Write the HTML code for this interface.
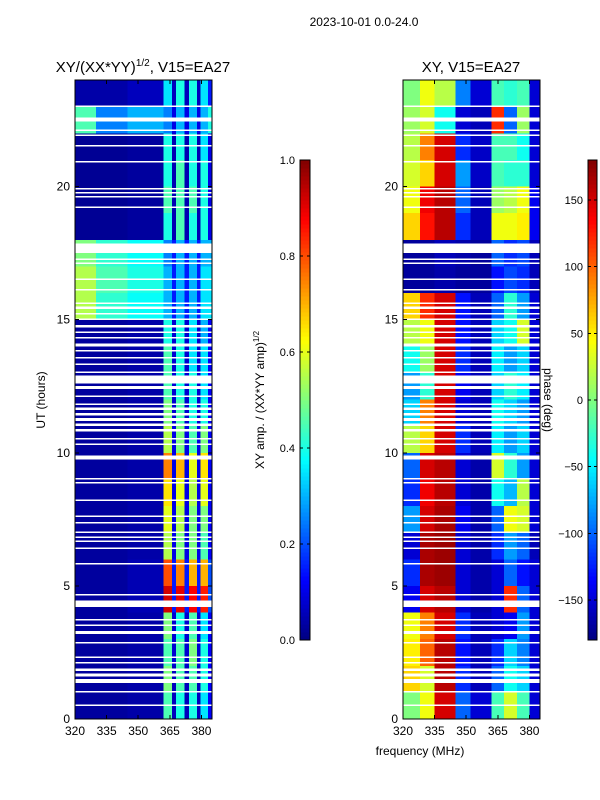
<!DOCTYPE html>
<html><head><meta charset="utf-8"><style>
body{margin:0;background:#fff;}
svg{display:block;font-family:"Liberation Sans",sans-serif;}
</style></head><body>
<svg id="fig" width="600" height="800" viewBox="0 0 600 800" shape-rendering="crispEdges">
<text x="364" y="26" font-size="12" text-anchor="middle">2023-10-01 0.0-24.0</text>
<text x="143" y="72" font-size="15" text-anchor="middle">XY/(XX*YY)<tspan font-size="10" dy="-6">1/2</tspan><tspan dy="6">, V15=EA27</tspan></text>
<text x="471" y="72" font-size="15" text-anchor="middle">XY, V15=EA27</text>
<text transform="translate(45,400) rotate(-90)" font-size="12" text-anchor="middle">UT (hours)</text>
<text x="420" y="755" font-size="12" text-anchor="middle">frequency (MHz)</text>
<text transform="translate(264,400) rotate(-90)" font-size="12" text-anchor="middle">XY amp. / (XX*YY amp)<tspan font-size="8" dy="-5">1/2</tspan></text>
<text transform="translate(544,400) rotate(90)" font-size="12" text-anchor="middle">phase (deg)</text>
<g id="layer"></g>
</svg>
<script>
const ampFreqEdges=[320,330,345,362,366,368,372,374,378,379.5,383,385];
const ampRows=[
[0.03,0.03,0.04,0.45,0.06,0.4,0.06,0.4,0.06,0.35,0.12],
[0.03,0.03,0.04,0.5,0.06,0.45,0.06,0.45,0.06,0.4,0.12],
[0.03,0.03,0.04,0.45,0.08,0.45,0.08,0.5,0.08,0.4,0.12],
[0.03,0.03,0.04,0.5,0.08,0.4,0.08,0.45,0.08,0.35,0.12],
[0.03,0.03,0.05,0.92,0.15,0.9,0.15,0.88,0.15,0.85,0.2],
[0.03,0.03,0.05,0.8,0.15,0.75,0.15,0.7,0.15,0.7,0.2],
[0.03,0.03,0.04,0.55,0.1,0.5,0.1,0.5,0.1,0.45,0.12],
[0.03,0.03,0.04,0.6,0.1,0.55,0.1,0.5,0.1,0.5,0.12],
[0.03,0.03,0.04,0.65,0.1,0.6,0.1,0.55,0.1,0.6,0.12],
[0.03,0.03,0.04,0.75,0.1,0.7,0.1,0.6,0.1,0.65,0.12],
[0.03,0.03,0.04,0.55,0.1,0.5,0.1,0.45,0.1,0.5,0.12],
[0.03,0.03,0.04,0.5,0.08,0.45,0.08,0.4,0.08,0.4,0.12],
[0.03,0.03,0.04,0.45,0.08,0.4,0.08,0.4,0.08,0.35,0.12],
[0.03,0.03,0.04,0.45,0.08,0.4,0.08,0.35,0.08,0.35,0.12],
[0.03,0.03,0.04,0.4,0.08,0.4,0.08,0.35,0.08,0.3,0.12],
[0.55,0.42,0.38,0.3,0.15,0.3,0.15,0.3,0.15,0.35,0.35],
[0.55,0.45,0.4,0.3,0.15,0.3,0.15,0.3,0.15,0.35,0.35],
[0.5,0.42,0.38,0.25,0.15,0.3,0.15,0.3,0.15,0.3,0.3],
[0.02,0.02,0.03,0.4,0.05,0.45,0.05,0.4,0.05,0.4,0.1],
[0.02,0.02,0.03,0.45,0.05,0.45,0.05,0.45,0.05,0.4,0.1],
[0.02,0.02,0.03,0.4,0.05,0.45,0.05,0.4,0.05,0.4,0.1],
[0.02,0.02,0.03,0.4,0.05,0.4,0.05,0.4,0.05,0.35,0.1],
[0.45,0.25,0.3,0.25,0.1,0.3,0.1,0.3,0.1,0.3,0.4],
[0.04,0.04,0.06,0.35,0.06,0.4,0.06,0.4,0.06,0.35,0.15]];
const phaseFreqEdges=[320,328,335,345,352,362,368,374,380,385];
const phaseRows=[
[0,40,150,-100,-150,-20,30,-20,-150],
[60,30,160,-120,-160,-100,-40,-60,-150],
[50,100,160,-130,-160,-120,-60,-90,-150],
[40,90,150,-120,-160,-150,-140,-80,-150],
[-140,150,160,-150,-165,-150,120,-100,-150],
[-120,165,170,-150,-165,-150,-100,-130,-150],
[-150,165,170,-150,-165,-120,-80,-100,-160],
[-80,150,165,-140,-165,-100,40,30,-150],
[-120,140,160,-150,-165,-40,-70,20,-150],
[-100,150,160,-150,-165,30,-30,-80,-150],
[20,60,150,-120,-160,-50,-80,-60,-150],
[-60,90,150,-150,-160,-40,-60,-80,-150],
[-80,-30,150,-140,-160,-60,-30,-50,-150],
[-40,10,150,-120,-160,-50,-80,-60,-150],
[20,40,150,-130,-160,-60,-40,30,-150],
[60,120,150,-130,-160,-100,-30,-80,-150],
[-170,-170,-165,-170,-170,-130,-110,-120,-160],
[-170,-170,-160,-165,-170,-100,-120,-110,-160],
[60,130,160,-120,-160,40,40,50,-140],
[40,140,160,-100,-160,10,20,40,-140],
[30,60,150,-80,-155,-20,-30,-30,-150],
[20,90,150,-120,-155,-20,-20,-40,-150],
[10,30,-40,-150,-160,120,-100,10,-150],
[0,40,20,-90,-150,-20,-30,-20,-150]];
const flaggedUT=[[23.0,23.05],[22.45,22.6],[22.1,22.15],[21.9,21.95],[21.5,21.55],[20.9,20.95],[19.9,19.95],[19.75,19.8],[19.6,19.65],[19.2,19.25],[17.5,17.85],[17.25,17.3],[17.1,17.15],[16.5,16.55],[16.1,16.15],[15.6,15.65],[15.4,15.5],[15.2,15.25],[15.0,15.05],[14.7,14.8],[14.5,14.55],[14.3,14.35],[14.0,14.1],[13.8,13.85],[13.55,13.6],[13.3,13.35],[13.0,13.05],[12.6,12.9],[12.4,12.5],[12.1,12.15],[11.8,11.85],[11.6,11.7],[11.4,11.5],[11.2,11.3],[11.0,11.1],[10.8,10.9],[10.5,10.55],[10.3,10.35],[9.75,9.9],[9.0,9.05],[8.85,8.9],[8.2,8.25],[7.6,7.65],[7.35,7.4],[7.0,7.05],[6.8,6.85],[6.65,6.7],[6.4,6.45],[5.8,5.85],[4.65,4.7],[4.2,4.45],[3.7,3.75],[3.5,3.55],[3.2,3.3],[2.85,2.9],[2.3,2.35],[2.1,2.15],[1.8,1.9],[1.6,1.7],[1.35,1.5],[1.0,1.05],[0.5,0.55]];
const xTicks=[320,335,350,365,380];
const yTicks=[0,5,10,15,20];
const ampTicks=[0.0,0.2,0.4,0.6,0.8,1.0];
const phaseTicks=[-150,-100,-50,0,50,100,150];

const NS='http://www.w3.org/2000/svg';
const layer=document.getElementById('layer');
function mk(tag,attrs,parent){const e=document.createElementNS(NS,tag);for(const k in attrs)e.setAttribute(k,attrs[k]);(parent||layer).appendChild(e);return e;}
function cl(x,a,b){return Math.max(a,Math.min(b,x));}
function jet(v){v=cl(v,0,1);
 const r=cl(Math.min(4*v-1.5,-4*v+4.5),0,1),g=cl(Math.min(4*v-0.5,-4*v+3.5),0,1),b=cl(Math.min(4*v+0.5,-4*v+2.5),0,1);
 return 'rgb('+Math.round(r*255)+','+Math.round(g*255)+','+Math.round(b*255)+')';}
const Y0=719,Y1=80,F0=320,F1=385;
function yS(t){return Y0-(t/24)*(Y0-Y1);}
function panel(name,px0,px1,edges,rows,norm){
 const xS=f=>px0+(f-F0)/(F1-F0)*(px1-px0);
 const g=mk('g',{});
 
 
 rows.forEach((row,h)=>{row.forEach((v,c)=>{
  const r=mk('rect',{x:xS(edges[c]),y:yS(h+1),width:xS(edges[c+1])-xS(edges[c]),height:yS(h)-yS(h+1),fill:jet(norm(v))},g);
  
  
 });});
 flaggedUT.forEach(f=>{const r=mk('rect',{x:px0,y:yS(f[1]),width:px1-px0,height:Math.max(1.5,yS(f[0])-yS(f[1])),fill:'#fff'},g);
  
  });
 const fr=mk('rect',{x:px0,y:Y1,width:px1-px0,height:Y0-Y1,fill:'none',stroke:'#000','stroke-width':1});
 
 
 xTicks.forEach(t=>{const x=xS(t);
  mk('line',{x1:x,x2:x,y1:Y0,y2:Y0-4,stroke:'#000'});mk('line',{x1:x,x2:x,y1:Y1,y2:Y1+4,stroke:'#000'});
  const tx=mk('text',{x:x,y:Y0+16,'font-size':12,'text-anchor':'middle'});tx.textContent=t;
  
  });
 yTicks.forEach(t=>{const y=yS(t);
  mk('line',{x1:px0,x2:px0+4,y1:y,y2:y,stroke:'#000'});mk('line',{x1:px1,x2:px1-4,y1:y,y2:y,stroke:'#000'});
  const tx=mk('text',{x:px0-5,y:y+4,'font-size':12,'text-anchor':'end'});tx.textContent=t;
  
  });
}
panel('amp',75,212,ampFreqEdges,ampRows,v=>v);
panel('phase',403,540,phaseFreqEdges,phaseRows,v=>(v+180)/360);

function colorbar(name,x,w,lo,hi,ticks,fmt){
 const cy0=160,cy1=640,n=120;
 const g=mk('g',{});
 
 
 for(let i=0;i<n;i++){mk('rect',{x:x,y:cy1-(i+1)*(cy1-cy0)/n,width:w,height:(cy1-cy0)/n+0.5,fill:jet((i+0.5)/n)},g);}
 mk('rect',{x:x,y:cy0,width:w,height:cy1-cy0,fill:'none',stroke:'#000'},g);
 ticks.forEach(t=>{const y=cy1-(t-lo)/(hi-lo)*(cy1-cy0);
  mk('line',{x1:x,x2:x+3,y1:y,y2:y,stroke:'#000'},g);mk('line',{x1:x+w,x2:x+w-3,y1:y,y2:y,stroke:'#000'},g);
  const tx=mk('text',{x:x-5,y:y+4,'font-size':11,'text-anchor':'end'},g);tx.textContent=fmt(t);
  
  });
}
colorbar('amp-colorbar',300,10,0,1,ampTicks,t=>t.toFixed(1));
colorbar('phase-colorbar',588,9,-180,180,phaseTicks,t=>t<0?'\u2212'+(-t):String(t));
</script>
</body></html>
